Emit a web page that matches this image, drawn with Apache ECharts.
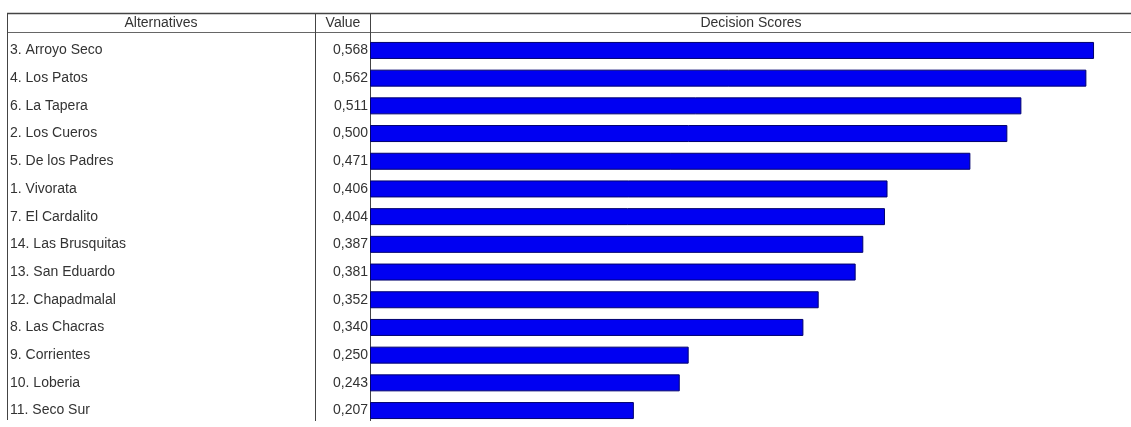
<!DOCTYPE html>
<html>
<head>
<meta charset="utf-8">
<script src="https://cdn.jsdelivr.net/npm/echarts@6/dist/echarts.min.js"></script>
<style>
  html, body { margin: 0; padding: 0; background: #fff; }
  #chart { width: 1131px; height: 427px; }
</style>
</head>
<body>
<div id="chart"></div>
<script>
// alternatives, top to bottom
const alternatives = [
  "3. Arroyo Seco", "4. Los Patos", "6. La Tapera", "2. Los Cueros",
  "5. De los Padres", "1. Vivorata", "7. El Cardalito", "14. Las Brusquitas",
  "13. San Eduardo", "12. Chapadmalal", "8. Las Chacras", "9. Corrientes",
  "10. Loberia", "11. Seco Sur"
];
const scores = [0.568, 0.562, 0.511, 0.500, 0.471, 0.406, 0.404, 0.387,
  0.381, 0.352, 0.340, 0.250, 0.243, 0.207];
const headers = ["Alternatives", "Value", "Decision Scores"];

const lineColor = "#444";
const textColor = "#333";
const font = "Liberation Sans, Arial, sans-serif";

let option = {
  animation: false,
  backgroundColor: "#fff",
  grid: {
    left: 370,
    right: 0,
    top: 36.6,
    bottom: 2.6
  },
  xAxis: {
    type: "value",
    min: 0,
    max: 0.597,
    show: false
  },
  yAxis: {
    type: "category",
    inverse: true,
    data: alternatives,
    axisLine: { show: false },
    axisTick: { show: false },
    splitLine: { show: false },
    axisLabel: {
      align: "left",
      margin: 360,
      color: textColor,
      fontSize: 14,
      fontFamily: font
    }
  },
  graphic: [
    // header lines
    { type: "line", shape: { x1: 7, y1: 13.5, x2: 1131, y2: 13.5 }, style: { stroke: lineColor, lineWidth: 1.5 } },
    { type: "line", shape: { x1: 7, y1: 32.5, x2: 1131, y2: 32.5 }, style: { stroke: "#666", lineWidth: 1 } },
    // column separators
    { type: "line", shape: { x1: 7.5, y1: 13, x2: 7.5, y2: 420 }, style: { stroke: lineColor, lineWidth: 1 } },
    { type: "line", shape: { x1: 315.5, y1: 13, x2: 315.5, y2: 421 }, style: { stroke: lineColor, lineWidth: 1 } },
    { type: "line", shape: { x1: 370.5, y1: 13, x2: 370.5, y2: 421 }, style: { stroke: lineColor, lineWidth: 1 } },
    // header texts
    { type: "text", x: 161, y: 23, style: { text: headers[0], fill: textColor, font: "14px " + font, align: "center", verticalAlign: "middle" } },
    { type: "text", x: 343, y: 23, style: { text: headers[1], fill: textColor, font: "14px " + font, align: "center", verticalAlign: "middle" } },
    { type: "text", x: 751, y: 23, style: { text: headers[2], fill: textColor, font: "14px " + font, align: "center", verticalAlign: "middle" } }
  ],
  series: [
    {
      type: "bar",
      data: scores,
      barWidth: 17,
      itemStyle: {
        color: "#0000f2",
        borderColor: "#00006e",
        borderWidth: 1
      },
      label: {
        show: true,
        position: "left",
        distance: 2,
        color: textColor,
        fontSize: 14,
        fontFamily: font,
        formatter: (p) => p.value.toFixed(3).replace(".", ",")
      }
    }
  ]
};

let myChart = echarts.init(document.getElementById("chart"));
myChart.setOption(option);
</script>
</body>
</html>
